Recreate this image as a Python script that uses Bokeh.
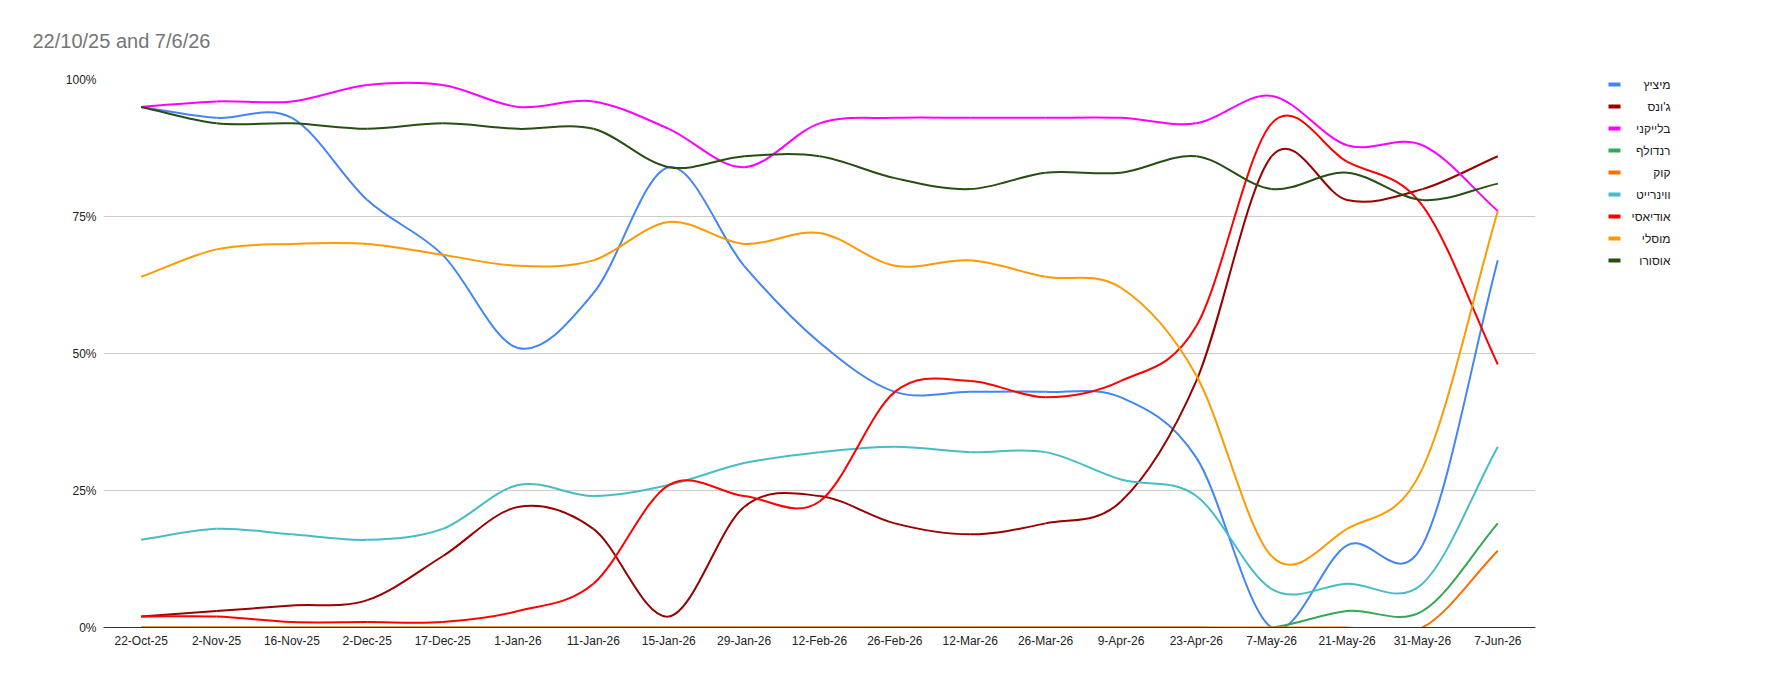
from bokeh.plotting import figure
from bokeh.models import Range1d, FixedTicker, PrintfTickFormatter, ColumnDataSource
from bokeh.layouts import row
from bokeh.embed import file_html
from bokeh.resources import INLINE

# ---------------- data ----------------
title_text = "22/10/25 and 7/6/26"

dates = ["22-Oct-25", "2-Nov-25", "16-Nov-25", "2-Dec-25", "17-Dec-25", "1-Jan-26",
         "11-Jan-26", "15-Jan-26", "29-Jan-26", "12-Feb-26", "26-Feb-26", "12-Mar-26",
         "26-Mar-26", "9-Apr-26", "23-Apr-26", "7-May-26", "21-May-26", "31-May-26",
         "7-Jun-26"]

y_ticks = [0, 25, 50, 75, 100]

mitzitz    = [95, 93, 93, 78, 68, 51, 61, 84, 66, 52, 43, 43, 43, 42, 31, 0, 15, 15, 67]
jones      = [2, 3, 4, 5, 13, 22, 18, 2, 22, 24, 19, 17, 19, 23, 45, 86, 78, 80, 86]
blakeney   = [95, 96, 96, 99, 99, 95, 96, 91, 84, 92, 93, 93, 93, 93, 92, 97, 88, 88, 76]
randolph   = [0, 0, 0, 0, 0, 0, 0, 0, 0, 0, 0, 0, 0, 0, 0, 0, 3, 3, 19]
kok        = [0, 0, 0, 0, 0, 0, 0, 0, 0, 0, 0, 0, 0, 0, 0, 0, 0, 0, 14]
wainwright = [16, 18, 17, 16, 18, 26, 24, 26, 30, 32, 33, 32, 32, 27, 24, 7, 8, 8, 33]
odiasi     = [2, 2, 1, 1, 1, 3, 8, 26, 24, 23, 43, 45, 42, 45, 55, 92, 85, 77, 48]
mosli      = [64, 69, 70, 70, 68, 66, 67, 74, 70, 72, 66, 67, 64, 62, 46, 13, 18, 29, 76]
osuro      = [95, 92, 92, 91, 92, 91, 91, 84, 86, 86, 82, 80, 83, 83, 86, 80, 83, 78, 81]

series_names = ["מיציץ", "ג'ונס", "בלייקני", "רנדולף", "קוק", "ווינרייט", "אודיאסי", "מוסלי", "אוסורו"]
series_values = [mitzitz, jones, blakeney, randolph, kok, wainwright, odiasi, mosli, osuro]
series_colors = ["#4285f4", "#990000", "#ff00ff", "#34a853", "#ff6d01", "#46bdc6", "#ff0000", "#ff9900", "#274e13"]

FONT = "Liberation Sans"

# ---------------- main chart ----------------
W, H = 1600, 650
TOP, BOTTOM, LEFT, RIGHT = 79, 23, 103, 65
p = figure(width=W, height=H, x_range=Range1d(-0.5, len(dates) - 0.5), y_range=Range1d(0, 100),
           output_backend="svg", toolbar_location=None,
           min_border_left=LEFT, min_border_right=RIGHT, min_border_top=TOP, min_border_bottom=BOTTOM)
p.outline_line_color = None
p.background_fill_color = "white"
p.border_fill_color = "white"

p.title.text = title_text
p.title.align = "left"
p.title.offset = -71
p.title.standoff = 55
p.title.text_font = FONT
p.title.text_font_size = "20px"
p.title.text_font_style = "normal"
p.title.text_color = "#757575"

p.xaxis.ticker = FixedTicker(ticks=list(range(len(dates))))
p.xaxis.major_label_overrides = {i: d for i, d in enumerate(dates)}
p.xaxis.axis_line_color = "#333333"
p.xaxis.major_label_standoff = 6
p.yaxis.ticker = FixedTicker(ticks=y_ticks)
p.yaxis.formatter = PrintfTickFormatter(format="%d%%")
p.yaxis.axis_line_color = None
p.yaxis.major_label_standoff = 7
for ax in (p.xaxis, p.yaxis):
    ax.major_tick_line_color = None
    ax.minor_tick_line_color = None
    ax.major_tick_out = 0
    ax.major_tick_in = 0
    ax.minor_tick_out = 0
    ax.minor_tick_in = 0
    ax.major_label_text_font = FONT
    ax.major_label_text_font_size = "12px"
    ax.major_label_text_color = "#222222"
p.xgrid.visible = False
p.ygrid.grid_line_color = "#cccccc"
p.ygrid.grid_line_width = 1


def curve_source(vals):
    """Smooth (Catmull-Rom style) cubic Bezier segments through the data points."""
    n = len(vals)
    slopes = []
    for i in range(n):
        lo, hi = max(i - 1, 0), min(i + 1, n - 1)
        slopes.append((vals[hi] - vals[lo]) / (hi - lo))
    d = dict(x0=[], y0=[], x1=[], y1=[], cx0=[], cy0=[], cx1=[], cy1=[])
    for i in range(n - 1):
        d["x0"].append(i)
        d["y0"].append(vals[i])
        d["x1"].append(i + 1)
        d["y1"].append(vals[i + 1])
        d["cx0"].append(i + 1 / 3)
        d["cy0"].append(vals[i] + slopes[i] / 3)
        d["cx1"].append(i + 1 - 1 / 3)
        d["cy1"].append(vals[i + 1] - slopes[i + 1] / 3)
    return ColumnDataSource(d)


for vals, color in zip(series_values, series_colors):
    p.bezier(x0="x0", y0="y0", x1="x1", y1="y1", cx0="cx0", cy0="cy0", cx1="cx1", cy1="cy1",
             source=curve_source(vals), line_color=color, line_width=2)

# ---------------- legend panel ----------------
# its frame is aligned with the chart frame, so the y range uses the chart's pixel rows
LW = 160
leg = figure(width=LW, height=H, x_range=Range1d(0, LW), y_range=Range1d(H - BOTTOM, TOP),
             output_backend="svg", toolbar_location=None, x_axis_type=None, y_axis_type=None,
             min_border=0, min_border_left=0, min_border_right=0,
             min_border_top=TOP, min_border_bottom=BOTTOM)
leg.outline_line_color = None
leg.xgrid.visible = False
leg.ygrid.visible = False

row_y = [84 + 22 * k for k in range(len(series_names))]
leg.quad(left=[8] * len(row_y), right=[20] * len(row_y),
         top=[y - 2 for y in row_y], bottom=[y + 2 for y in row_y],
         fill_color=series_colors, line_color=None)
leg.text(x=[70] * len(row_y), y=row_y, text=series_names,
         text_align="right", text_baseline="middle",
         text_font_size="12px", text_color="#222222", text_font={"value": FONT})

layout = row(p, leg)
open("out.html", "w").write(file_html(layout, INLINE))
